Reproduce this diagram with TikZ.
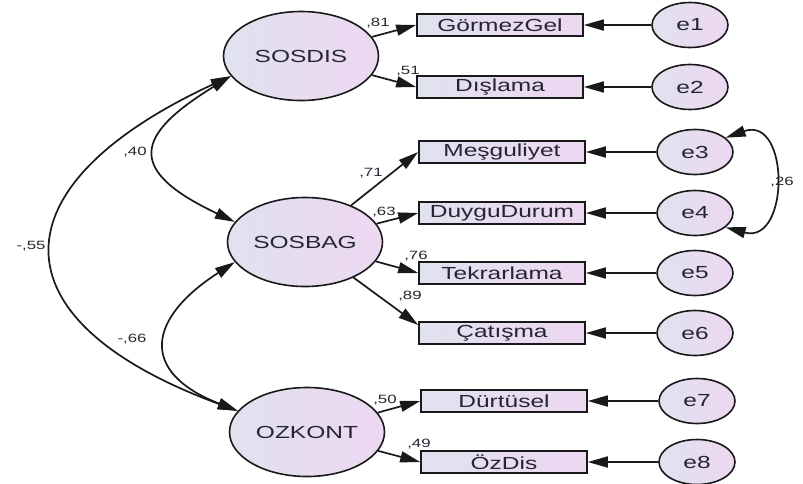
\documentclass[tikz,border=0pt]{standalone}
\usepackage{fontspec}
\setmainfont[FakeStretch=1.4]{Liberation Sans}
\usetikzlibrary{arrows.meta,shapes.geometric}
\definecolor{lftc}{RGB}{224,226,239}
\definecolor{rgtc}{RGB}{237,215,241}
\definecolor{txt}{RGB}{38,38,48}
\definecolor{edge}{RGB}{25,25,25}
\begin{document}
\begin{tikzpicture}[x=1pt,y=-1pt,
  latent/.style={ellipse, draw=edge, line width=1.6pt, minimum width=155pt, minimum height=89pt,
    left color=lftc, right color=rgtc, text=txt, inner sep=0pt, font=\fontsize{17.5}{20}\selectfont},
  obs/.style={rectangle, draw=edge, line width=1.6pt, minimum width=166pt, minimum height=22pt,
    left color=lftc, right color=rgtc, text=txt, inner sep=0pt, font=\fontsize{17.5}{20}\selectfont},
  err/.style={ellipse, draw=edge, line width=1.6pt, minimum width=76pt, minimum height=45pt,
    left color=lftc, right color=rgtc, text=txt, inner sep=0pt, font=\fontsize{17.5}{20}\selectfont},
  reg/.style={draw=edge, line width=1.7pt, -{Triangle[length=20pt,width=11pt]}},
  cov/.style={draw=edge, line width=1.7pt, {Triangle[length=20pt,width=11pt]}-{Triangle[length=20pt,width=11pt]}},
  coef/.style={text=txt, inner sep=0pt, font=\fontsize{12}{14}\selectfont}
]
\useasboundingbox (0,0) rectangle (803,483);

% latent variables
\node[latent] (SOSDIS) at (301,56) {SOSDIS};
\node[latent] (SOSBAG) at (305,242) {SOSBAG};
\node[latent] (OZKONT) at (307,432) {OZKONT};

% observed variables
\node[obs] (GG)  at (500,25)  {GörmezGel};
\node[obs] (DIS) at (500,87)  {Dışlama};
\node[obs] (MES) at (502,152) {Meşguliyet};
\node[obs] (DUY) at (502,213) {DuyguDurum};
\node[obs] (TEK) at (502,273) {Tekrarlama};
\node[obs] (CAT) at (502,333) {Çatışma};
\node[obs] (DUR) at (504,401) {Dürtüsel};
\node[obs] (OZD) at (504,462) {ÖzDis};

% error terms
\node[err] (e1) at (690,25)  {e1};
\node[err] (e2) at (690,87)  {e2};
\node[err] (e3) at (695,152) {e3};
\node[err] (e4) at (695,213) {e4};
\node[err] (e5) at (695,273) {e5};
\node[err] (e6) at (695,333) {e6};
\node[err] (e7) at (697,401) {e7};
\node[err] (e8) at (697,462) {e8};

% loadings
\draw[reg] (SOSDIS) -- (GG.west);
\draw[reg] (SOSDIS) -- (DIS.west);
\draw[reg] (SOSBAG) -- (MES.west);
\draw[reg] (SOSBAG) -- (DUY.west);
\draw[reg] (SOSBAG) -- (TEK.west);
\draw[reg] (SOSBAG) -- ([yshift=8pt]CAT.west);
\draw[reg] (OZKONT) -- (DUR.west);
\draw[reg] (OZKONT) -- (OZD.west);

% error paths
\draw[reg] (e1) -- (GG);
\draw[reg] (e2) -- (DIS);
\draw[reg] (e3) -- (MES);
\draw[reg] (e4) -- (DUY);
\draw[reg] (e5) -- (TEK);
\draw[reg] (e6) -- (CAT);
\draw[reg] (e7) -- (DUR);
\draw[reg] (e8) -- (OZD);

% covariances
\draw[cov] (SOSDIS.196) .. controls (-5,185) and (-10,320) .. (OZKONT.163);
\draw[cov] (SOSDIS.196) .. controls (135,135) and (125,170) .. (SOSBAG.164);
\draw[cov] (SOSBAG.196) .. controls (148,318) and (138,372) .. (OZKONT.163);
\draw[cov] (e3.25) .. controls (790,115) and (790,245) .. (e4.-25);

% coefficients
\node[coef] (c81) at (378,23)  {,81};
\node[coef] (c51) at (408,71)  {,51};
\node[coef] (c40) at (135,152) {,40};
\node[coef] (c71) at (371,173) {,71};
\node[coef] (c63) at (384,212) {,63};
\node[coef] (c76) at (416,256) {,76};
\node[coef] (c89) at (410,296) {,89};
\node[coef] (c26) at (782,182) {,26};
\node[coef] (c55) at (31,246)  {-,55};
\node[coef] (c66) at (132,339) {-,66};
\node[coef] (c50) at (385,400) {,50};
\node[coef] (c49) at (419,444) {,49};
\end{tikzpicture}
\end{document}
